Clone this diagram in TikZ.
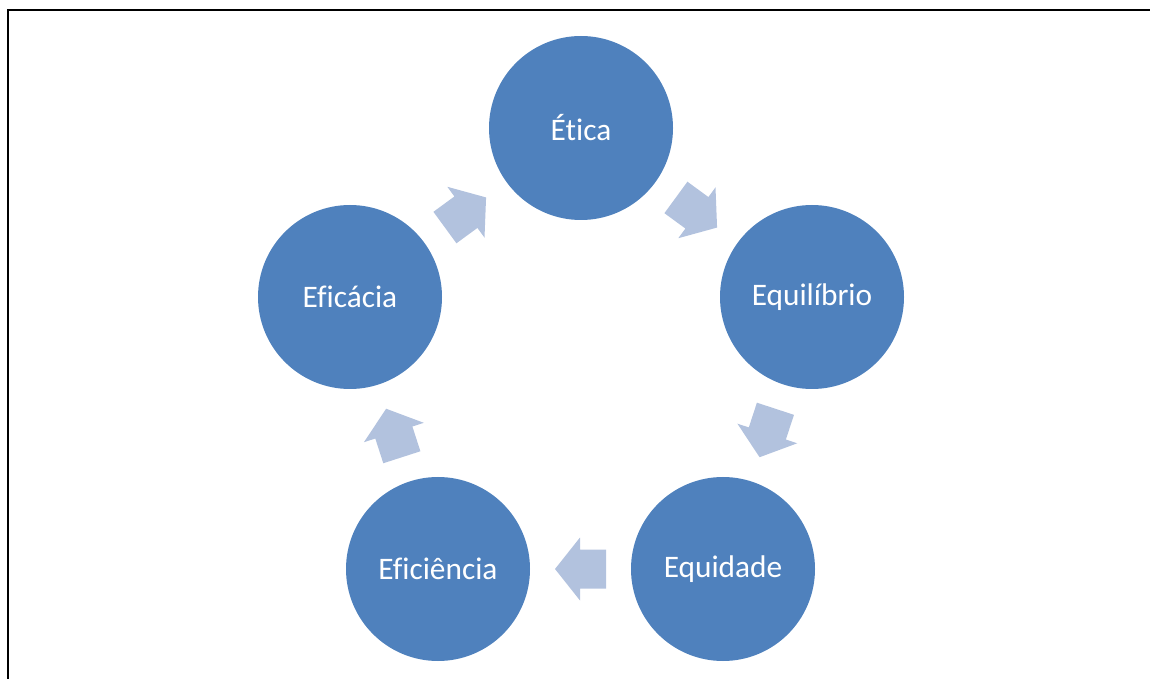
\documentclass[tikz,border=0pt]{standalone}
\usepackage{fontspec}
\setmainfont[Ligatures={NoCommon}]{Carlito}
\usetikzlibrary{calc}
\definecolor{circblue}{RGB}{79,129,189}
\definecolor{arrowblue}{RGB}{178,194,222}
\tikzset{
  x=0.75pt, y=0.75pt,
  circ/.style={circle, fill=circblue, draw=none, minimum size=138pt, inner sep=0pt,
    text=white, font=\fontsize{23.5}{28}\selectfont},
  blockarrow/.pic={
    \fill[arrowblue] (-25.5,-19.5) -- (0.5,-19.5) -- (0.5,-31.5) -- (25.5,0)
      -- (0.5,31.5) -- (0.5,19.5) -- (-25.5,19.5) -- cycle;
  }
}
\begin{document}
\begin{tikzpicture}
\useasboundingbox (0,0) rectangle (1150,679);
\draw[line width=1.5pt] (1150,669) -- (8.3,669) -- (8.3,0);
\node[circ] (etica) at (581,551) {Ética};
\node[circ] (equil) at (812,382) {Equilíbrio};
\node[circ] (equid) at (723,110) {Equidade};
\node[circ] (efici) at (438,110) {Eficiência};
\node[circ] (efica) at (350,382) {Eficácia};
\foreach \a/\b in {etica/equil, equil/equid, equid/efici, efici/efica, efica/etica}{
  \path let \p1=($(\b)-(\a)$), \n1={atan2(\y1,\x1)} in
    ($(\a)!0.5!(\b)$) pic[rotate=\n1] {blockarrow};
}
\end{tikzpicture}
\end{document}
